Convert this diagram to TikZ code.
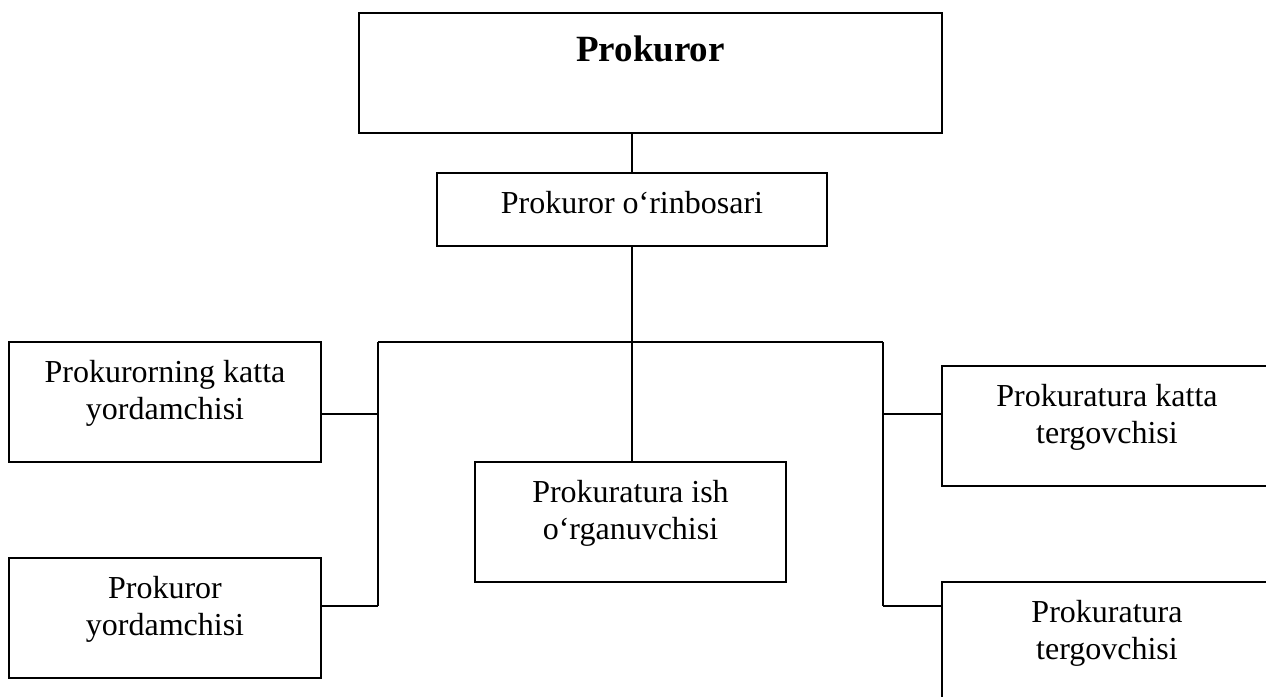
\documentclass[tikz,border=0pt]{standalone}
\usepackage{fontspec}
\setmainfont{Liberation Serif}
\tikzset{
  BX/.style={draw=black, line width=0.65pt, rectangle, inner sep=0pt,
             align=center, font=\fontsize{16}{18.75}\selectfont},
  TB/.style={draw=black, line width=1pt, rectangle, inner sep=0pt,
             font=\fontsize{18.5}{21}\selectfont\bfseries},
  LN/.style={black, line width=0.65pt},
}

\begin{document}
\begin{tikzpicture}[x=0.5pt, y=-0.5pt]

\useasboundingbox (0,0) rectangle (1266,697);
\clip (0,0) rectangle (1266,697);

%% ================================================================
%%  TOP LEVEL
%% ================================================================
\node[TB, minimum width=291.5pt, minimum height=60pt, text depth=24.3pt]
  (prok) at (650.5,73) {Prokuror};
\node[BX, minimum width=195pt, minimum height=36.5pt, text depth=7.5pt]
  (orin) at (632,209.5) {Prokuror o‘rinbosari};

%% ================================================================
%%  SUBORDINATES
%% ================================================================
\node[BX, minimum width=156pt, minimum height=60pt, text depth=12pt]
  (kyord) at (165,402) {Prokurorning katta\\yordamchisi};
\node[BX, minimum width=156pt, minimum height=60pt, text depth=12pt]
  (pyord) at (165,618) {Prokuror\\yordamchisi};
\node[BX, minimum width=155.5pt, minimum height=60pt, text depth=12pt]
  (ishorg) at (630.5,522) {Prokuratura ish\\o‘rganuvchisi};
\node[BX, minimum width=165pt, minimum height=60pt, text depth=12pt]
  (kterg) at (1107,426) {Prokuratura katta\\tergovchisi};
\node[BX, minimum width=165pt, minimum height=60pt, text depth=12pt]
  (terg) at (1107,642) {Prokuratura\\tergovchisi};

% bus joints
\coordinate (lbus) at (378,342);
\coordinate (rbus) at (883,342);
\coordinate (lj1)  at (378,414);
\coordinate (lj2)  at (378,606);
\coordinate (rj1)  at (883,414);
\coordinate (rj2)  at (883,606);

%% ================================================================
%%  CONNECTORS
%% ================================================================
\draw[LN] (orin.north) -- (orin.north |- prok.south);
\draw[LN] (orin.south) -- (orin.south |- ishorg.north);
\draw[LN] (lbus) -- (rbus);

% left branch
\draw[LN] (lbus) -- (lj2);
\draw[LN] (lj1) -- (lj1 -| kyord.east);
\draw[LN] (lj2) -- (lj2 -| pyord.east);

% right branch
\draw[LN] (rbus) -- (rj2);
\draw[LN] (rj1) -- (rj1 -| kterg.west);
\draw[LN] (rj2) -- (rj2 -| terg.west);

\end{tikzpicture}
\end{document}
